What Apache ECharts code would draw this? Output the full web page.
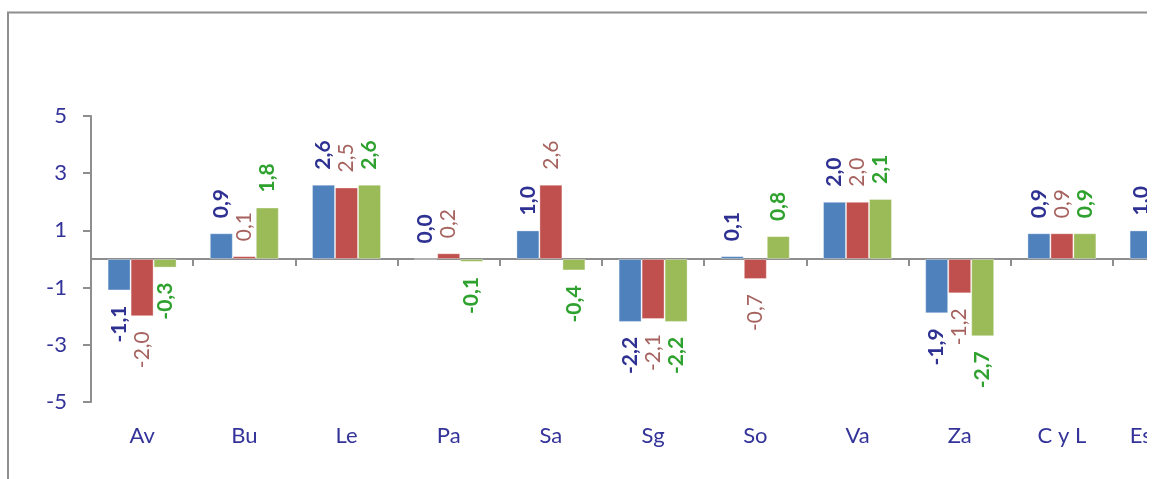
<!DOCTYPE html>
<html>
<head>
<meta charset="utf-8">
<script src="https://cdn.jsdelivr.net/npm/echarts@6/dist/echarts.min.js"></script>
<style>
  html, body { margin: 0; padding: 0; background: #ffffff; }
  #chart { width: 1147px; height: 479px; overflow: hidden; }
</style>
</head>
<body>
<div id="chart"></div>
<script>
// ---- data ----
const categories = ['Av', 'Bu', 'Le', 'Pa', 'Sa', 'Sg', 'So', 'Va', 'Za', 'C y L', 'España'];
const serieAzul  = [-1.1, 0.9, 2.6, 0.0, 1.0, -2.2, 0.1, 2.0, -1.9, 0.9, 1.0];
const serieRoja  = [-2.0, 0.1, 2.5, 0.2, 2.6, -2.1, -0.7, 2.0, -1.2, 0.9, null];
const serieVerde = [-0.3, 1.8, 2.6, -0.1, -0.4, -2.2, 0.8, 2.1, -2.7, 0.9, null];
const yMin = -5, yMax = 5, yStep = 2;

// ---- styling ----
const AXIS_GREY = '#8E8E8E';
const TEXT_NAVY = '#333399';
const FONT = 'Lato, "Liberation Sans", sans-serif';

function fmt(v) { return v.toFixed(1).replace('.', ','); }

function buildData(arr) {
  return arr.map(v => v == null ? null : ({
    value: v,
    label: { align: v < 0 ? 'right' : 'left', position: v === 0 ? 'top' : 'outside' }
  }));
}

function barSeries(name, arr, color, labelColor, weight) {
  return {
    name: name,
    type: 'bar',
    xAxisIndex: 0,
    yAxisIndex: 0,
    barGap: '0%',
    barCategoryGap: '32.5%',
    data: buildData(arr),
    itemStyle: { color: color, borderColor: 'rgba(255,255,255,0.35)', borderWidth: 1 },
    label: {
      show: true,
      position: 'outside',
      rotate: 90,
      distance: 15,
      verticalAlign: 'middle',
      color: labelColor,
      fontFamily: FONT,
      fontSize: 21,
      fontWeight: weight,
      formatter: p => (p.value == null ? '' : fmt(p.value))
    },
    emphasis: { disabled: true },
    animation: false
  };
}

const chart = echarts.init(document.getElementById('chart'), null, { renderer: 'canvas' });

chart.setOption({
  animation: false,
  grid: { left: 91, top: 116, height: 286, width: 102.2 * categories.length, containLabel: false, outerBoundsMode: 'none' },
  xAxis: [
    {
      type: 'category',
      data: categories,
      axisLine: { show: true, onZero: true, lineStyle: { color: AXIS_GREY, width: 2 } },
      axisTick: { show: true, length: 7, interval: 0, lineStyle: { color: AXIS_GREY, width: 2 } },
      axisLabel: { show: false },
      splitLine: { show: false }
    },
    {
      type: 'category',
      data: categories,
      position: 'bottom',
      axisLine: { show: false, onZero: false },
      axisTick: { show: false },
      axisLabel: { show: true, interval: 0, margin: 23, color: TEXT_NAVY, fontFamily: FONT, fontSize: 22 },
      splitLine: { show: false }
    }
  ],
  yAxis: {
    type: 'value',
    min: yMin,
    max: yMax,
    interval: yStep,
    axisLine: { show: true, lineStyle: { color: AXIS_GREY, width: 2 } },
    axisTick: { show: true, length: 8, lineStyle: { color: AXIS_GREY, width: 2 } },
    axisLabel: { color: TEXT_NAVY, fontFamily: FONT, fontSize: 22, margin: 24 },
    splitLine: { show: false }
  },
  graphic: [
    { type: 'line', shape: { x1: 8, y1: 12, x2: 8, y2: 479 }, style: { stroke: AXIS_GREY, lineWidth: 2 }, silent: true },
    { type: 'line', shape: { x1: 7, y1: 12.5, x2: 1147, y2: 12.5 }, style: { stroke: AXIS_GREY, lineWidth: 2 }, silent: true }
  ],
  series: [
    barSeries('Serie 1', serieAzul, '#4F81BD', '#2E3192', 'bold'),
    barSeries('Serie 2', serieRoja, '#C0504D', '#A5625E', 'normal'),
    barSeries('Serie 3', serieVerde, '#9BBB59', '#2EA12E', 'bold')
  ]
});
</script>
</body>
</html>
